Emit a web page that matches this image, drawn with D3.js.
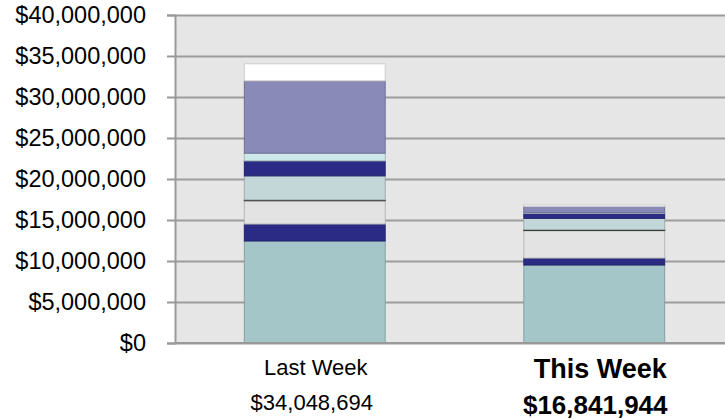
<!DOCTYPE html>
<html>
<head>
<meta charset="utf-8">
<script src="https://cdn.jsdelivr.net/npm/d3@7"></script>
<style>
body { margin: 0; background: #fff; }
text { font-family: "Liberation Sans", Arial, sans-serif; fill: #000; }
</style>
</head>
<body>
<div id="container"></div>
<script>
// categories and their totals (as printed under the bars)
var categories = ["Last Week", "This Week"];
var totalLabels = ["$34,048,694", "$16,841,944"];

// stacked pieces, bottom to top, in dollars
var seriesNames = ["s1", "s2", "s3", "s4", "s5", "s6", "s7", "s8", "s9"];
var seriesColors = ["#a5c6c8", "#2b2b85", "#e3e3e3", "#1e1e1e", "#c3d6d8",
		    "#2b2b85", "#cce8e8", "#8a8ab8", "#ffffff"];
var lastWeek = [12440000, 2070000, 2840000, 100000, 2930000, 1830000, 940000, 8820000, 2078694];
var thisWeek = [9510000, 850000, 3350000, 100000, 1390000, 610000, 80000, 770000, 181944];

var yTicks = [0, 5000000, 10000000, 15000000, 20000000, 25000000, 30000000, 35000000, 40000000];

var init = function(){

    var W = 725, H = 419;
    var left = 175, top = 15, bottom = 343;

    var svg = d3.select("#container").append("svg")
	.attr("width", W)
	.attr("height", H);

    var x = d3.scaleBand()
	.domain(categories)
	.range([left, 734])
	.paddingInner(0.496)
	.paddingOuter(0.248);

    var y = d3.scaleLinear()
	.domain([0, 40000000])
	.range([bottom, top]);

    // plot background
    svg.append("rect")
	.attr("x", left)
	.attr("y", top)
	.attr("width", W - left)
	.attr("height", bottom - top)
	.attr("fill", "#e6e6e6");

    // gridlines
    var grid = svg.append("g")
	.attr("transform", "translate(" + left + ",0)")
	.call(d3.axisLeft(y).tickValues(yTicks).tickSize(-(W - left)).tickFormat(""));
    grid.select(".domain").remove();
    grid.selectAll("line")
	.attr("stroke", "#9c9c9c")
	.attr("stroke-width", 2);

    // stack the rows
    var rows = categories.map(function(c, i){
	var row = {cat: c};
	seriesNames.forEach(function(s, j){
	    row[s] = (i == 0 ? lastWeek : thisWeek)[j];
	});
	return row;
    });
    var stacked = d3.stack().keys(seriesNames)(rows);

    svg.append("g").selectAll("g")
	.data(stacked)
	.join("g")
	.attr("fill", function(d, i){ return seriesColors[i]; })
	.attr("stroke", function(d, i){ return d3.color(seriesColors[i]).darker(0.6); })
	.attr("stroke-width", 1)
	.selectAll("rect")
	.data(function(d){ return d; })
	.join("rect")
	.attr("x", function(d){ return x(d.data.cat); })
	.attr("width", x.bandwidth())
	.attr("y", function(d){ return y(d[1]); })
	.attr("height", function(d){ return y(d[0]) - y(d[1]); });

    // y axis with labels
    var fmt = d3.format("$,");
    var yAxis = svg.append("g")
	.attr("transform", "translate(" + left + ",0)")
	.call(d3.axisLeft(y).tickValues(yTicks).tickSize(8).tickPadding(21).tickFormat(function(d){ return fmt(d); }));
    yAxis.select(".domain")
	.attr("stroke", "#999")
	.attr("stroke-width", 2);
    yAxis.selectAll("line")
	.attr("stroke", "#999")
	.attr("stroke-width", 2);
    yAxis.selectAll("text")
	.style("font-size", "23.5px")
	.style("font-family", "'Liberation Sans', Arial, sans-serif")
	.attr("fill", "#000");

    // x axis line
    svg.append("line")
	.attr("x1", left)
	.attr("x2", W)
	.attr("y1", bottom)
	.attr("y2", bottom)
	.attr("stroke", "#999")
	.attr("stroke-width", 2);

    // category labels and totals
    categories.forEach(function(c, i){
	var cx = x(c) + x.bandwidth() / 2;
	var bold = (i == 1);
	svg.append("text")
	    .attr("x", cx + (bold ? 6 : 1))
	    .attr("y", bold ? 378 : 375)
	    .attr("text-anchor", "middle")
	    .style("font-size", bold ? "27px" : "22px")
	    .style("font-weight", bold ? "bold" : "normal")
	    .text(c);
	svg.append("text")
	    .attr("x", cx + (bold ? 1 : -3))
	    .attr("y", bold ? 414 : 410)
	    .attr("text-anchor", "middle")
	    .style("font-size", bold ? "26px" : "22px")
	    .style("font-weight", bold ? "bold" : "normal")
	    .text(totalLabels[i]);
    });
}

init();
</script>
</body>
</html>
